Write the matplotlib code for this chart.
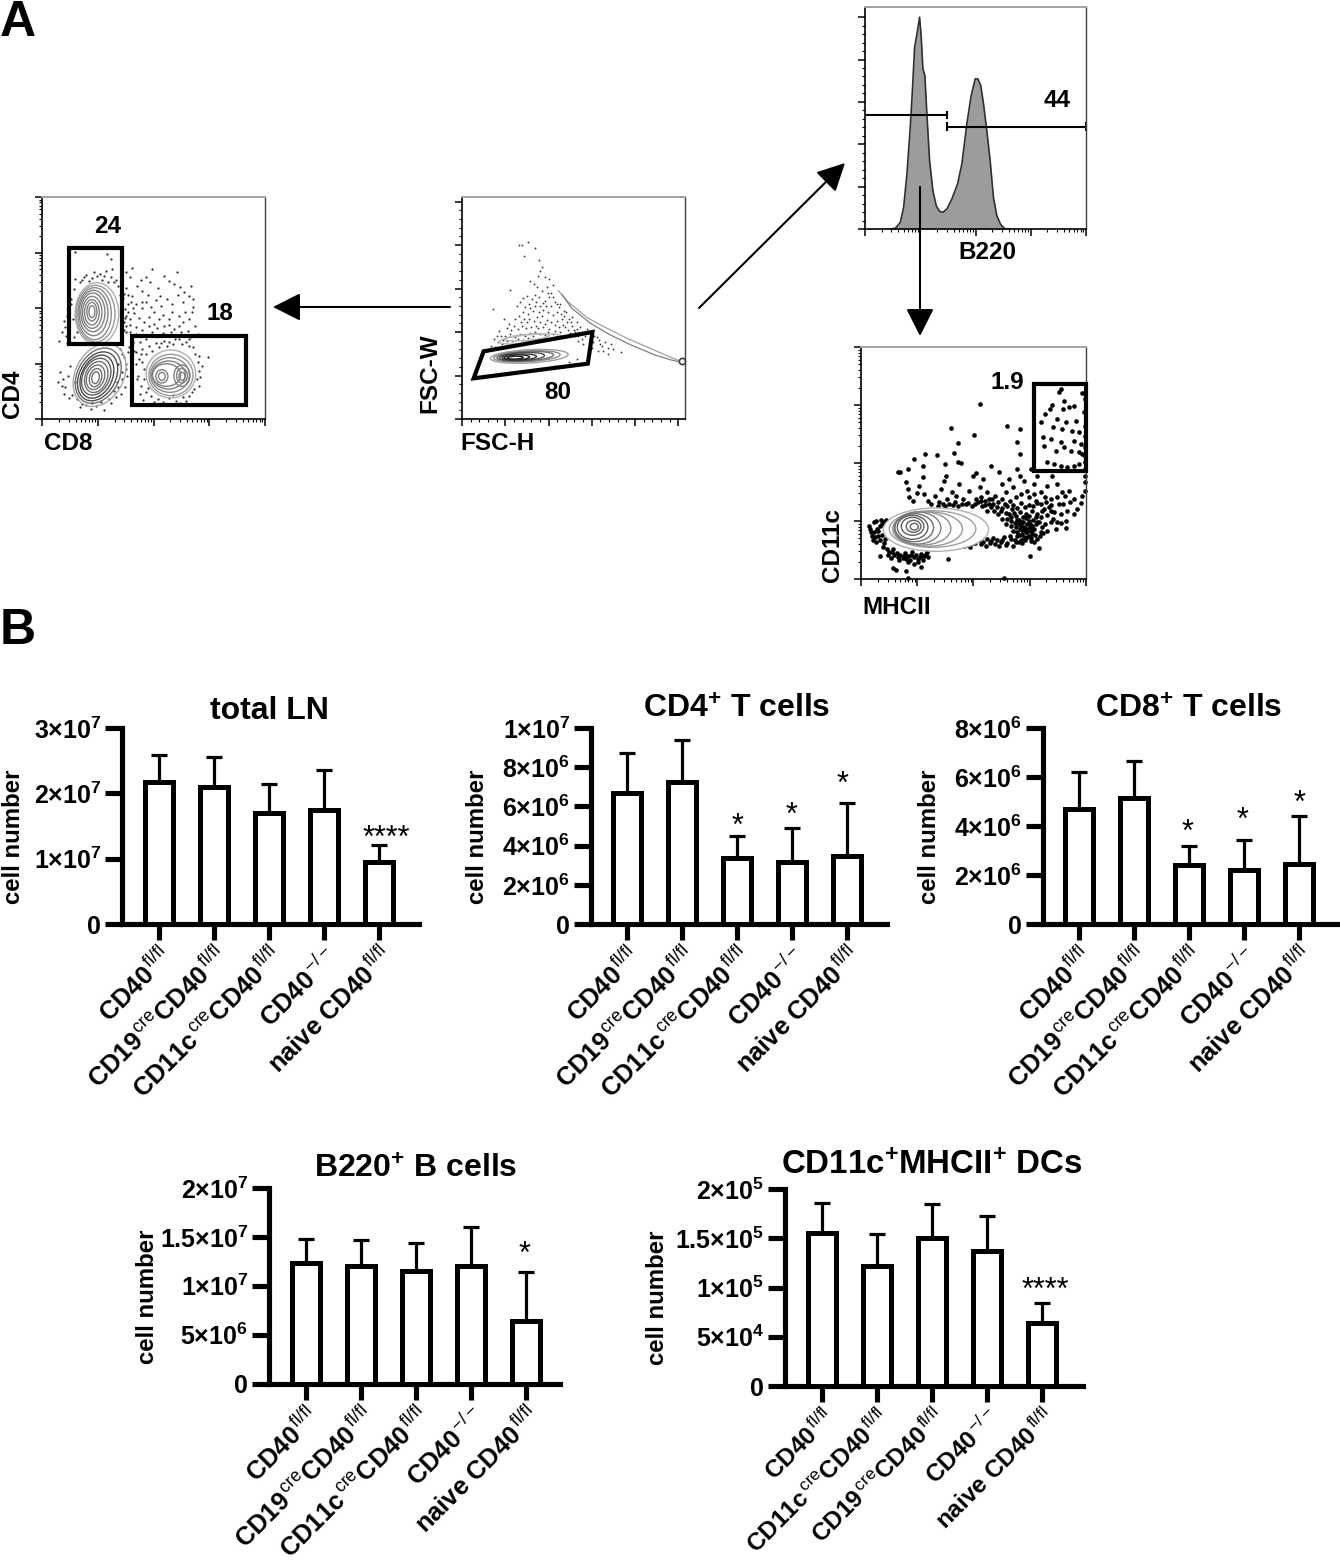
import matplotlib
matplotlib.use('Agg')
import matplotlib.pyplot as plt
from matplotlib.patches import Ellipse, Polygon, Rectangle
from matplotlib.transforms import ScaledTranslation
import numpy as np

plt.rcParams['font.family'] = ['Liberation Sans', 'DejaVu Sans']
plt.rcParams['mathtext.fontset'] = 'custom'
plt.rcParams['mathtext.rm'] = 'Liberation Sans'
plt.rcParams['mathtext.bf'] = 'Liberation Sans:bold'
plt.rcParams['mathtext.it'] = 'Liberation Sans:italic'

W = 1340
H = 1561

# bar chart data
labels_a = [r'$\mathbf{CD40}^{\,\mathrm{fl/fl}}$', r'$\mathbf{CD19}^{\,\mathrm{cre}}\mathbf{CD40}^{\,\mathrm{fl/fl}}$',
            r'$\mathbf{CD11c}^{\,\mathrm{cre}}\mathbf{CD40}^{\,\mathrm{fl/fl}}$', r'$\mathbf{CD40}^{\,\mathrm{-/-}}$',
            r'$\mathbf{naive\ CD40}^{\,\mathrm{fl/fl}}$']
labels_dc = [labels_a[0], labels_a[2], labels_a[1], labels_a[3], labels_a[4]]

lbl_ticks_total = ['0', r'$\mathbf{1×10}^{\mathbf{7}}$', r'$\mathbf{2×10}^{\mathbf{7}}$', r'$\mathbf{3×10}^{\mathbf{7}}$']
lbl_ticks_cd4 = ['0', r'$\mathbf{2×10}^{\mathbf{6}}$', r'$\mathbf{4×10}^{\mathbf{6}}$', r'$\mathbf{6×10}^{\mathbf{6}}$',
                 r'$\mathbf{8×10}^{\mathbf{6}}$', r'$\mathbf{1×10}^{\mathbf{7}}$']
lbl_ticks_cd8 = ['0', r'$\mathbf{2×10}^{\mathbf{6}}$', r'$\mathbf{4×10}^{\mathbf{6}}$', r'$\mathbf{6×10}^{\mathbf{6}}$',
                 r'$\mathbf{8×10}^{\mathbf{6}}$']
lbl_ticks_b220 = ['0', r'$\mathbf{5×10}^{\mathbf{6}}$', r'$\mathbf{1×10}^{\mathbf{7}}$', r'$\mathbf{1.5×10}^{\mathbf{7}}$',
                  r'$\mathbf{2×10}^{\mathbf{7}}$']
lbl_ticks_dc = ['0', r'$\mathbf{5×10}^{\mathbf{4}}$', r'$\mathbf{1×10}^{\mathbf{5}}$', r'$\mathbf{1.5×10}^{\mathbf{5}}$',
                r'$\mathbf{2×10}^{\mathbf{5}}$']

total_mean = [2.166e7, 2.095e7, 1.703e7, 1.739e7, 9.56e6]
total_top = [2.59e7, 2.56e7, 2.14e7, 2.35e7, 1.215e7]
cd4_mean = [6.66e6, 7.27e6, 3.37e6, 3.15e6, 3.49e6]
cd4_top = [8.73e6, 9.41e6, 4.51e6, 4.90e6, 6.19e6]
cd8_mean = [4.69e6, 5.14e6, 2.39e6, 2.22e6, 2.45e6]
cd8_top = [6.2e6, 6.64e6, 3.2e6, 3.44e6, 4.41e6]
b220_mean = [1.23e7, 1.197e7, 1.15e7, 1.197e7, 6.37e6]
b220_top = [1.479e7, 1.469e7, 1.441e7, 1.605e7, 1.141e7]
dc_mean = [1.556e5, 1.22e5, 1.505e5, 1.373e5, 6.44e4]
dc_top = [1.861e5, 1.542e5, 1.844e5, 1.729e5, 8.44e4]

# significance marks: text, category position, height
total_stars = [('****', 4.13, 1.464e7)]
cd4_stars = [('*', 2.0, 5.47e6), ('*', 3.0, 6.03e6), ('*', 3.92, 7.63e6)]
cd8_stars = [('*', 1.98, 4.11e6), ('*', 2.97, 4.62e6), ('*', 4.01, 5.33e6)]
b220_stars = [('*', 3.97, 1.421e7)]
dc_stars = [('****', 4.06, 1.071e5)]

# flow panels, in channel units
cd4cd8_dots = [(250,440),(262,425),(270,452),(283,400),(295,418),(300,385),(310,425),(322,412),(330,450),(345,392),
    (352,370),(365,430),(378,415),(395,405),(402,440),(412,395),(425,382),(438,370),(445,400),(452,360),(420,350),
    (405,372),(388,345),(372,360),(355,340),(340,358),(325,335),(312,350),(298,332),(282,345),(268,370),(258,345),
    (250,310),(262,300),(275,318),(290,302),(305,290),(320,305),(335,285),(350,300),(365,280),(380,300),(395,270),
    (408,310),(422,290),(435,265),(448,320),(458,280),(465,255),(440,240),(415,262),(385,262),(360,258),(330,262),
    (300,268),(280,275),(262,262),(250,280),(65,295),(72,250),(88,360),(95,390),(100,420),(112,410),(125,425),
    (140,415),(155,440),(165,430),(178,418),(190,445),(205,425),(215,410),(228,400),(235,385),(245,375),(240,350),
    (248,330),(245,290),(52,235),(80,330),(92,300),(105,262),(100,500),(195,495),(205,480),(210,450),(55,140),
    (62,120),(70,95),(78,130),(85,160),(90,72),(98,110),(105,60),(118,45),(145,30),(185,28),(150,48),(175,52),
    (215,85),(225,110),(235,75),(248,95),(255,130),(240,140),(228,165),(245,185),(258,200),(250,165),(260,215),
    (232,210),(220,65),(200,60),(290,180),(298,210),(305,150),(288,130),(295,100),(310,80),(325,70),(345,60),
    (360,50),(380,62),(400,55),(420,65),(440,70),(455,90),(462,120),(470,145),(465,170),(458,195),(450,215),
    (430,230),(410,240),(390,225),(372,218),(350,215),(330,205),(312,195),(300,172),(282,165),(470,100),(495,185),
    (305,120),(340,228),(365,235),(445,245),
    (118,418),(132,432),(148,422),(172,436),(186,428),(198,412),(222,418),(232,372),(242,362),(252,392),(258,372),
    (266,352),(272,332),(256,322),(248,302),(262,282),(270,250),(252,262),(244,268),(80,395),(88,345),(76,310),
    (70,275),(82,285),(95,245),(75,228),(60,262),(300,350),(316,372),(335,320),(362,312),(388,322),(428,322),
    (440,300),(452,335),(410,280),(378,282),(342,272),(320,280),(296,248),(282,255),(272,232),(292,232),(310,240),
    (60,100),(48,110),(66,75),(82,62),(112,36),(130,42),(160,38),(205,48),(228,95),(240,120),(252,150),(238,195),
    (268,180),(275,205),(285,120),(292,75),(302,58),(318,92),(335,50),(372,44),(392,72),(412,48),(430,55),(448,82),
    (472,125),(478,160),(468,190),(438,218),(418,225),(398,240),(380,232),(355,228),(320,218),(295,195),(282,200)]
cd4_rings = [(164,316,65,93,0),(160,316,58,85,0),(157,316,50,78,0),(154,318,43,68,0),(152,320,36,58,0),
             (150,320,29,48,0),(149,320,22,38,0),(149,322,15,28,0),(149,322,9,18,0)]
dn_rings = [(172,132,72,100,-28),(168,130,62,88,-28),(166,128,54,78,-28),(164,127,46,68,-25),(162,127,40,58,-25),
            (162,126,33,48,-20),(160,125,26,38,-20),(160,124,18,28,-15),(160,124,11,18,-10)]
cd8_rings = [(385,135,74,72,0),(385,132,66,62,0),(382,132,58,52,0),(378,132,50,42,0),(372,132,42,34,0),
             (418,130,24,32,0),(418,130,16,22,0),(418,128,9,12,0),(358,128,18,20,0),(358,128,10,12,0)]
cd4_gate = [82, 225, 239, 513]
cd8_gate = [268, 43, 609, 250]

fsc_dots = [(170,522),(180,522),(197,530),(218,512),(185,490),(232,478),(240,455),(235,445),(228,430),(250,425),
    (262,420),(272,402),(205,415),(215,405),(225,395),(240,385),(255,395),(268,378),(145,388),(175,350),(190,335),
    (200,345),(210,360),(222,350),(235,340),(250,355),(262,365),(278,350),(290,335),(305,325),(170,310),(185,300),
    (198,315),(212,325),(225,305),(240,310),(258,320),(272,312),(285,295),(300,300),(315,290),(330,280),(345,270),
    (360,262),(155,280),(168,270),(180,280),(195,290),(208,275),(222,280),(235,290),(248,285),(262,270),(278,265),
    (295,260),(310,275),(325,258),(340,250),(92,330),(125,300),(140,285),(112,265),(128,250),(145,255),(160,245),
    (175,255),(190,250),(205,258),(220,262),(235,255),(250,252),(95,240),(108,232),(120,225),(135,235),(88,220),
    (100,215),(370,250),(385,240),(395,230),(405,245),(415,225),(425,205),(440,195),(455,210),(478,200),(430,230),
    (365,225),(350,235),(320,300),(345,290),(355,275),(375,270),(330,305),(312,320),(295,345),(320,170),(345,180),
    (280,160),(300,155),
    (165,340),(182,322),(205,332),(218,338),(230,322),(244,328),(252,338),(268,340),(284,322),(296,315),(306,308),
    (160,300),(178,290),(192,272),(202,300),(216,295),(228,272),(242,275),(255,298),(268,290),(280,282),(292,275),
    (304,282),(318,268),(335,268),(352,255),(148,268),(135,272),(118,250),(105,248),(122,238),(150,235),(168,240),
    (182,238),(198,242),(212,248),(228,240),(258,262),(272,255),(286,248),(300,245),(380,258),(398,250),(412,238),
    (392,212),(408,205),(420,218),(438,212),(448,225),(362,240),(340,262),(328,292),(350,248),(242,348),(232,365),
    (218,372),(195,368),(182,362),(258,378),(272,365),(285,345)]
fsc_rings = [(202,188,117,20,3),(195,188,100,16,3),(190,188,85,14,3),(180,187,68,12,3),(172,186,52,9,2),
             (165,185,38,7,2),(160,184,24,4,2)]
fsc_rings_upper = [(205,240,95,13,5),(195,245,68,9,5)]
fsc_tail_a = [(290,385),(320,350),(375,305),(430,275),(500,240),(570,210),(620,188),(650,176)]
fsc_tail_b = [(300,374),(330,332),(385,288),(440,255),(510,221),(580,192),(625,178),(650,172)]
fsc_end = (660, 173)
fsc_gate = [(65,203),(392,261),(378,166),(35,122)]

hist_x = [0.458,0.548,0.639,0.699,0.759,0.819,0.861,0.898,0.940,0.988,1.018,1.048,1.084,1.120,1.169,1.229,1.289,
          1.349,1.410,1.482,1.572,1.675,1.753,1.843,1.916,1.994,2.042,2.096,2.145,2.205,2.265,2.325,2.386,2.458,
          2.536,2.627]
hist_y = [0,0.016,0.157,0.512,1.299,2.402,3.346,4.291,4.606,5.0,4.528,3.78,3.622,2.717,1.614,0.906,0.551,0.417,
          0.394,0.472,0.709,1.063,1.535,2.48,3.11,3.543,3.543,3.386,2.953,2.323,1.614,0.748,0.315,0.102,0,0]
hist_gate_left = (0, 1.482, 2.693)
hist_gate_right = (1.482, 4.0, 2.417)

mhc_dots = [(28,150),(30,140),(38,170),(45,175),(48,150),(52,130),(60,178),(62,165),(42,125),(35,118),(50,145),
    (68,170),(72,120),(70,108),(66,95),(78,90),(85,82),(92,80),(100,72),(108,78),(118,72),(125,62),(132,78),(142,70),
    (150,72),(158,65),(165,72),(172,60),(180,75),(190,68),(198,82),(205,95),(115,58),(140,50),(160,45),(56,70),
    (105,28),(96,32),(134,23),(180,35),(260,60),(238,95),(245,110),(255,100),(265,108),(275,102),(285,110),(295,105),
    (310,100),(322,115),(335,108),(345,120),(355,118),(368,112),(380,120),(392,115),(402,105),(410,118),(420,112),
    (430,125),(440,108),(450,120),(458,100),(470,128),(480,118),(490,125),(465,110),(470,140),(478,150),(485,135),
    (490,155),(495,140),(500,150),(505,130),(510,145),(515,158),(498,165),(488,170),(505,175),(515,135),(520,150),
    (525,165),(530,120),(482,160),(475,165),(465,155),(458,145),(450,158),(510,115),(500,125),(492,118),(540,140),
    (545,155),(552,165),(560,145),(535,172),(525,185),(570,170),(360,245),(372,235),(385,225),(395,240),(408,215),
    (420,205),(432,225),(445,195),(455,210),(465,190),(478,200),(488,185),(440,180),(452,175),(462,168),(475,178),
    (495,195),(505,190),(515,205),(528,195),(425,180),(435,165),(365,220),(378,205),(392,215),(135,290),(140,270),
    (145,245),(155,235),(168,258),(175,280),(185,305),(190,255),(200,235),(210,225),(222,250),(235,230),(240,270),
    (250,295),(258,240),(265,225),(272,260),(285,250),(295,285),(305,240),(315,225),(325,265),(335,310),(345,240),
    (358,275),(368,300),(380,260),(392,340),(402,250),(415,320),(425,285),(435,260),(445,300),(458,275),(468,330),
    (478,310),(490,295),(500,265),(510,330),(520,285),(530,310),(142,330),(185,340),(110,322),(118,320),(252,345),
    (255,308),(345,318),(290,352),(300,348),(525,235),(540,260),(552,245),(565,215),(578,180),(585,150),(600,195),
    (612,250),(628,230),(640,195),(665,250),(662,228),(672,265),(560,280),(575,310),(590,285),(605,260),(620,205),
    (580,200),(595,225),(550,210),(570,240),(600,570),(596,560),(665,558),(610,535),(575,522),(568,510),(608,510),
    (625,515),(640,520),(552,495),(540,470),(590,480),(615,470),(645,475),(670,500),(578,455),(605,450),(635,445),
    (655,440),(548,425),(570,420),(600,410),(640,415),(660,405),(550,400),(585,385),(610,395),(630,385),(655,380),
    (665,375),(672,370),(672,350),(672,330),(672,310),(672,290),(672,430),(672,460),(672,540),(560,350),(580,345),
    (600,340),(620,335),(640,338),(655,345),(672,395),(358,526),(271,452),(341,432),(438,460),(478,450),(468,411),
    (290,408),(193,375),(158,360),(228,372),(280,378),(478,375),(140,3),(430,3),(508,70),(534,93),(616,154),
    (82,72),(90,62),(96,90),(112,66),(128,70),(136,60),(146,58),(154,80),(170,52),(176,66),(186,58),(194,74),(200,66),
    (40,140),(34,128),(56,158),(24,160),(74,178),(58,118),(46,112),(64,132),
    (215,105),(225,98),(232,118),(248,95),(268,98),(280,118),(300,112),(318,102),(328,96),(342,108),(362,105),(375,98),
    (388,108),(398,122),(415,100),(425,118),(435,102),(448,128),(462,118),(475,112),(485,108),
    (232,218),(245,225),(252,218),(275,222),(282,232),(292,220),(302,225),(322,228),(332,220),(342,225),(352,232),
    (362,235),(372,222),(385,240),(398,225),(412,232),(425,240),(438,218),(448,235),(458,222),(468,212),(480,228),
    (492,215),(505,222),(518,218),(530,228),(400,205),(412,195),(424,212),(436,198),(450,185),(460,198),(470,178),
    (484,172),(496,182),(508,165),(518,178),(530,170),(540,185),(500,140),(508,155),(492,148),(484,148),(515,145),
    (522,132),(538,128),(548,138),(478,132),(512,122),(520,112),
    (545,205),(558,192),(572,205),(588,172),(600,168),(615,175),(540,225),(555,230),(572,222),(590,245),(608,225),
    (625,265),(640,240),(650,210),(520,255),(505,245),(480,255),(465,245)]
mhc_rings = [(225,148,158,65,0),(215,150,130,55,0),(200,150,105,52,0),(185,152,85,50,0),(170,153,70,48,0),
             (160,154,58,42,0),(155,155,46,36,0),(155,158,34,27,0),(158,158,22,18,0),(160,157,12,10,0)]
mhc_gate = [520, 325, 676, 585]

fig = plt.figure(figsize=(W/100, H/100), dpi=100)


def add_box(l, t, r, b):
    return fig.add_axes([l/W, 1-b/H, (r-l)/W, (b-t)/H])


def log_ticks(step, n):
    major = [i*step for i in range(n+1)]
    minor = [(i+np.log10(m))*step for i in range(n) for m in range(2, 10)]
    return major, minor


def lin_ticks(step, n):
    major = [i*step for i in range(n+1)]
    minor = [(i+k/5)*step for i in range(n) for k in range(1, 5)]
    return major, minor


def flow_axes(l, t, r, b, xlim, ylim, xt, yt):
    ax = add_box(l, t, r, b)
    ax.set_xlim(*xlim)
    ax.set_ylim(*ylim)
    ax.set_xticks(xt[0])
    ax.set_xticks(xt[1], minor=True)
    ax.set_yticks(yt[0])
    ax.set_yticks(yt[1], minor=True)
    ax.tick_params(which='major', length=5, width=1.1, labelbottom=False, labelleft=False)
    ax.tick_params(which='minor', length=2.5, width=0.8)
    ax.spines['top'].set_color('#a0a0a0')
    ax.spines['top'].set_linewidth(1.4)
    ax.spines['right'].set_color('#404040')
    ax.spines['right'].set_linewidth(1.0)
    ax.spines['left'].set_linewidth(1.2)
    ax.spines['bottom'].set_linewidth(1.2)
    return ax


def draw_rings(ax, rings, colors, lw=1.0, first_fill=None):
    for k, (cx, cy, rx, ry, ang) in enumerate(rings):
        c = colors[min(k, len(colors)-1)]
        fc = first_fill if (k == 0 and first_fill) else 'none'
        ax.add_patch(Ellipse((cx, cy), 2*rx, 2*ry, angle=ang, fc=fc, ec=c, lw=lw, zorder=3))


def draw_gate_rect(ax, g):
    ax.add_patch(Rectangle((g[0], g[1]), g[2]-g[0], g[3]-g[1], fc='none', ec='k', lw=3.0,
                           joinstyle='miter', clip_on=False, zorder=5))


def bar_panel(l, t, r, b, c0, ymax, ticks, tick_labels, mean, top, xlabels, stars, xlabel_size=18.4):
    ax = add_box(l, t, r, b)
    x = np.arange(5)
    ax.bar(x, mean, width=0.52, color='white', edgecolor='k', linewidth=3.6, zorder=3)
    lower = [0]*5
    upper = [a-m for a, m in zip(top, mean)]
    ax.errorbar(x, mean, yerr=[lower, upper], fmt='none', ecolor='k', elinewidth=2.3, capsize=6, capthick=2.3, zorder=2)
    ax.set_xlim(-(c0-l)/55, (r-c0)/55)
    ax.set_ylim(0, ymax)
    ax.spines['top'].set_visible(False)
    ax.spines['right'].set_visible(False)
    ax.spines['left'].set_linewidth(3.7)
    ax.spines['bottom'].set_linewidth(3.7)
    ax.set_yticks(ticks)
    ax.set_yticklabels(tick_labels, fontsize=18, fontweight='bold')
    ax.set_xticks(x)
    ax.set_xticklabels(xlabels, fontsize=xlabel_size, rotation=45, ha='right', va='top', rotation_mode='anchor')
    shift = ScaledTranslation(-8/100, 0, fig.dpi_scale_trans)
    for lab in ax.get_xticklabels():
        lab.set_transform(lab.get_transform() + shift)
    ax.tick_params(axis='y', length=12, width=3.7, pad=3)
    ax.tick_params(axis='x', length=11.5, width=3.7, pad=2.5)
    for s, sx, sy in stars:
        ax.annotate(s, (sx, sy), xytext=(0, -13), textcoords='offset points', ha='center', va='baseline',
                    fontsize=22, annotation_clip=False)
    return ax


# panel A
grey_rings = ['#b0b0b0', '#9a9a9a', '#8c8c8c', '#808080']
ax1 = flow_axes(42, 197, 265, 419, (0, 666), (0, 666), log_ticks(166.5, 4), log_ticks(166.5, 4))
ax1.scatter(*zip(*cd4cd8_dots), s=2.6, c='#303030', linewidths=0, zorder=2)
draw_rings(ax1, cd4_rings, grey_rings)
draw_rings(ax1, dn_rings, ['#a8a8a8', '#707070', '#505050', '#484848', '#606060', '#707070'])
draw_rings(ax1, cd8_rings, grey_rings)
draw_gate_rect(ax1, cd4_gate)
draw_gate_rect(ax1, cd8_gate)

ax2 = flow_axes(462, 197, 685, 419, (0, 670), (0, 666), lin_ticks(130, 5), lin_ticks(130.5, 5))
ax2.scatter(*zip(*fsc_dots), s=1.8, c='#404040', linewidths=0, zorder=2)
draw_rings(ax2, fsc_rings, ['#a0a0a0', '#8c8c8c', '#707070', '#505050', '#383838', '#282828'], lw=1.0)
draw_rings(ax2, fsc_rings_upper, ['#b8b8b8'])
ax2.plot(*zip(*fsc_tail_a), color='#a0a0a0', lw=0.9)
ax2.plot(*zip(*fsc_tail_b), color='#808080', lw=0.9)
ax2.plot(*fsc_end, 'o', ms=4.5, mfc='white', mec='#404040', mew=1.2, clip_on=False)
ax2.add_patch(Polygon(fsc_gate, closed=True, fc='none', ec='k', lw=3.0, joinstyle='miter', zorder=5))

ax3 = flow_axes(865, 7, 1086, 229, (0, 4), (0, 5.24), log_ticks(1, 4), lin_ticks(1, 5))
ax3.fill_between(hist_x, hist_y, color='#9c9c9c', lw=0)
ax3.plot(hist_x, hist_y, color='#303030', lw=1.2)
ax3.plot(hist_gate_left[:2], [hist_gate_left[2]]*2, color='k', lw=1.5)
ax3.plot(hist_gate_right[:2], [hist_gate_right[2]]*2, color='k', lw=1.5)
ax3.plot([hist_gate_left[1]]*2, [hist_gate_left[2]-0.08, hist_gate_left[2]+0.08], color='k', lw=1.5)
ax3.plot([hist_gate_right[0]]*2, [hist_gate_right[2]-0.08, hist_gate_right[2]+0.08], color='k', lw=1.5)
ax3.plot([hist_gate_right[1]]*2, [hist_gate_right[2]-0.08, hist_gate_right[2]+0.08], color='k', lw=1.5, clip_on=False)

ax4 = flow_axes(861, 347, 1086, 579, (0, 676), (0, 696), log_ticks(168.8, 4), log_ticks(174, 4))
ax4.scatter(*zip(*mhc_dots), s=11, c='k', marker='o', linewidths=0, zorder=2, clip_on=False)
draw_rings(ax4, mhc_rings, ['#b0b0b0', '#a0a0a0', '#989898', '#909090', '#808080', '#707070', '#606060'], first_fill='white')
draw_gate_rect(ax4, mhc_gate)

# panel B
bar_panel(122, 728, 419, 924, 159, 3e7, [0, 1e7, 2e7, 3e7], lbl_ticks_total, total_mean, total_top, labels_a, total_stars)
bar_panel(591, 728, 887, 924, 627, 1e7, [0, 2e6, 4e6, 6e6, 8e6, 1e7], lbl_ticks_cd4, cd4_mean, cd4_top, labels_a, cd4_stars)
bar_panel(1043, 728, 1340, 924, 1079, 8e6, [0, 2e6, 4e6, 6e6, 8e6], lbl_ticks_cd8, cd8_mean, cd8_top, labels_a, cd8_stars)
bar_panel(269, 1188, 560, 1383.5, 306, 2e7, [0, 5e6, 1e7, 1.5e7, 2e7], lbl_ticks_b220, b220_mean, b220_top, labels_a, b220_stars)
bar_panel(785, 1189, 1083, 1386, 822, 2e5, [0, 5e4, 1e5, 1.5e5, 2e5], lbl_ticks_dc, dc_mean, dc_top, labels_dc, dc_stars, xlabel_size=17.6)

# overlay for arrows and free text, in pixel coordinates
top = fig.add_axes([0, 0, 1, 1], zorder=10)
top.set_xlim(0, W)
top.set_ylim(H, 0)
top.axis('off')
top.patch.set_alpha(0)

arrow = dict(arrowstyle='-|>,head_length=17,head_width=8.6', color='k', lw=1.5, shrinkA=0, shrinkB=0, mutation_scale=1)
top.annotate('', xy=(273, 307), xytext=(450, 307), arrowprops=arrow)
top.annotate('', xy=(845, 163), xytext=(699, 308), arrowprops=arrow)
top.annotate('', xy=(920, 336), xytext=(920, 187), arrowprops=arrow)

panel_font = dict(fontweight='bold', ha='center', va='center')
top.text(18, 23, 'A', fontsize=36, **panel_font)
top.text(18, 631, 'B', fontsize=36, **panel_font)

flow_texts = [('24', 108, 226), ('18', 220, 313), ('80', 558, 392), ('44', 1057, 100), ('1.9', 1007, 382),
              ('CD8', 68, 443), ('FSC-H', 498, 443), ('B220', 987, 252), ('MHCII', 897, 607)]
for s, px, py in flow_texts:
    top.text(px, py, s, fontsize=17.5, **panel_font)
for s, px, py in [('CD4', 12, 394), ('FSC-W', 430, 373), ('CD11c', 833, 545)]:
    top.text(px, py, s, fontsize=17.5, rotation=90, **panel_font)

titles = [('total LN', 269, 719, 23), (r'$\mathbf{CD4^{+}\ T\ cells}$', 737, 718, 23),
          (r'$\mathbf{CD8^{+}\ T\ cells}$', 1189, 718, 23), (r'$\mathbf{B220^{+}\ B\ cells}$', 416, 1178, 23),
          (r'$\mathbf{CD11c^{+}MHCII^{+}\ DCs}$', 932, 1174, 23.8)]
for s, px, py, fs in titles:
    top.text(px, py, s, fontsize=fs, fontweight='bold', ha='center', va='baseline')

for px, py in [(14, 837), (478, 837), (930, 837), (147, 1297), (657, 1298)]:
    top.text(px, py, 'cell number', fontsize=17.3, rotation=90, **panel_font)

fig.savefig('out.png', dpi=100)
